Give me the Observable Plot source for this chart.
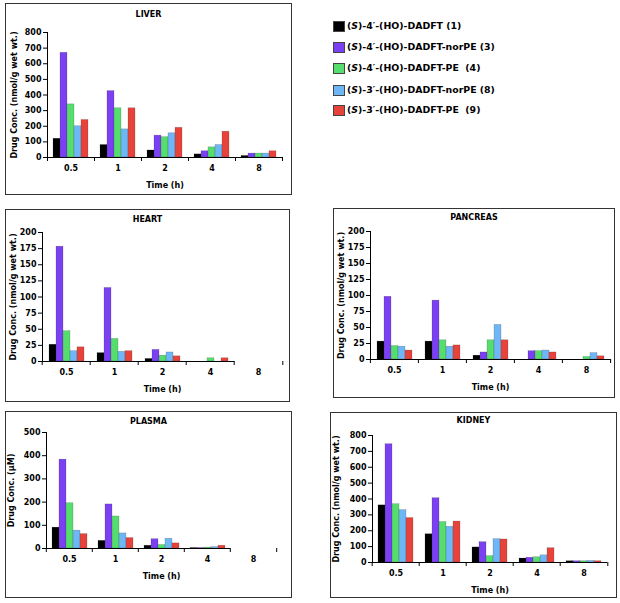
<!DOCTYPE html>
<html><head><meta charset="utf-8">
<script src="https://cdn.jsdelivr.net/npm/d3@7"></script>
<script src="https://cdn.jsdelivr.net/npm/@observablehq/plot@0.6"></script>
<style>
body{margin:0;background:#fff;font-family:"DejaVu Sans",Verdana,sans-serif;}
#root{position:relative;width:620px;height:603px;overflow:hidden;}
.box{position:absolute;border:1.5px solid #333;box-sizing:border-box;}
.title{position:absolute;text-align:center;font-weight:bold;font-size:8px;line-height:10px;}
.chart{position:absolute;}
.legend{position:absolute;left:333px;top:20px;font-weight:bold;font-size:9.4px;}
.legend .row{position:absolute;left:0;height:12px;white-space:pre;line-height:12px;}
.legend .sw{position:absolute;left:0;top:1px;width:10px;height:9px;border:0.5px solid #444;}
.legend .tx{position:absolute;left:14px;top:0;}
</style></head><body><div id="root"></div>
<script>
const times = ["0.5", "1", "2", "4", "8"];
const seriesNames = ["(S)-4′-(HO)-DADFT (1)", "(S)-4′-(HO)-DADFT-norPE (3)", "(S)-4′-(HO)-DADFT-PE  (4)", "(S)-3′-(HO)-DADFT-norPE (8)", "(S)-3′-(HO)-DADFT-PE  (9)"];
const colors = ["#000000", "#7a40f2", "#55dd6e", "#6fb6f6", "#e8433b"];

// values per series (rows) at each time (columns)
const liver = [
  [120, 80, 45, 20, 10],
  [670, 425, 140, 40, 25],
  [340, 315, 130, 65, 25],
  [200, 180, 155, 80, 25],
  [240, 315, 190, 165, 40]
];
const heart = [
  [26, 13, 4, 0, 0],
  [178, 114, 18, 0, 0],
  [47, 35, 9, 5, 0],
  [16, 15, 14, 0, 0],
  [22, 16, 8, 5, 0]
];
const pancreas = [
  [28, 28, 6, 0, 0],
  [98, 92, 11, 13, 0],
  [21, 30, 30, 13, 4],
  [20, 20, 54, 14, 10],
  [14, 22, 30, 11, 5]
];
const plasma = [
  [90, 33, 12, 2, 0],
  [383, 190, 40, 2, 0],
  [195, 138, 15, 4, 0],
  [77, 65, 42, 6, 0],
  [62, 45, 22, 12, 0]
];
const kidney = [
  [360, 178, 95, 25, 8],
  [745, 405, 128, 30, 8],
  [367, 255, 40, 33, 8],
  [330, 225, 147, 45, 10],
  [280, 258, 145, 90, 8]
];
const ticks800 = [0, 100, 200, 300, 400, 500, 600, 700, 800];
const ticks200 = [0, 25, 50, 75, 100, 125, 150, 175, 200];
const ticks500 = [0, 100, 200, 300, 400, 500];
const tissueLabel = "Drug Conc. (nmol/g wet wt.)";
const plasmaLabel = "Drug Conc. (µM)";

// layout: box [left, top, right, bottom], plot frame [left, right, top, bottom]
const panels = [
  {title: "LIVER", values: liver, ticks: ticks800, label: tissueLabel, box: [5, 3, 292, 195], frame: [47, 282, 32, 157], titleY: 15, yOff: 36},
  {title: "HEART", values: heart, ticks: ticks200, label: tissueLabel, box: [5, 209, 290, 402], frame: [40, 283, 232, 361], titleY: 220, yOff: 32},
  {title: "PANCREAS", values: pancreas, ticks: ticks200, label: tissueLabel, box: [333, 208, 615, 398], frame: [369, 610, 231, 359], titleY: 218, yOff: 32},
  {title: "PLASMA", values: plasma, ticks: ticks500, label: plasmaLabel, box: [5, 411, 292, 598], frame: [45, 277, 432, 548], titleY: 422, yOff: 38},
  {title: "KIDNEY", values: kidney, ticks: ticks800, label: tissueLabel, box: [330, 412, 617, 598], frame: [370, 608, 435, 562], titleY: 421, yOff: 39}
];

const root = document.getElementById("root");

for (const p of panels) {
  const [bl, bt, br, bb] = p.box;
  const [fl, fr, ft, fb] = p.frame;
  const box = document.createElement("div");
  box.className = "box";
  Object.assign(box.style, {left: bl + "px", top: bt + "px", width: (br - bl) + "px", height: (bb - bt) + "px"});
  root.appendChild(box);

  const title = document.createElement("div");
  title.className = "title";
  title.textContent = p.title;
  Object.assign(title.style, {left: bl + "px", width: (br - bl) + "px", top: (p.titleY - 5) + "px"});
  root.appendChild(title);

  const data = seriesNames.flatMap((s, i) => times.map((t, j) => ({series: s, time: t, value: p.values[i][j]})));
  const bw = (fr - fl) / times.length;
  const chart = Plot.plot({
    width: br - bl,
    height: bb - bt,
    marginLeft: fl - bl,
    marginRight: br - fr,
    marginTop: ft - bt,
    marginBottom: bb - fb,
    style: {fontFamily: "DejaVu Sans, Verdana, sans-serif", fontWeight: "bold", fontSize: "8px", color: "#000", background: "transparent", overflow: "visible"},
    fx: {domain: times, padding: 0},
    x: {domain: seriesNames, paddingInner: 0, paddingOuter: 0.6, axis: null},
    y: {domain: [p.ticks[0], p.ticks[p.ticks.length - 1]], ticks: p.ticks, tickSize: 4, tickPadding: 2, line: true, label: p.label, labelAnchor: "center", labelOffset: p.yOff, labelArrow: "none"},
    color: {domain: seriesNames, range: colors},
    marks: [
      Plot.barY(data.filter(d => d.value > 0), {fx: "time", x: "series", y: "value", fill: "series", stroke: "#222", strokeOpacity: 0.35, strokeWidth: 0.5}),
      Plot.ruleY([0], {stroke: "#000", strokeWidth: 1.2}),
      Plot.axisFx({anchor: "bottom", tickSize: 0, tickPadding: 8, label: "Time (h)", labelAnchor: "center", labelOffset: 30, labelArrow: "none"}),
      Plot.axisFx({anchor: "bottom", tickSize: 4, tickFormat: () => "", label: null, dx: -bw / 2}),
      Plot.axisFx({anchor: "bottom", ticks: [times[times.length - 1]], tickSize: 4, tickFormat: () => "", label: null, dx: bw / 2})
    ]
  });
  chart.classList.add("chart");
  chart.style.left = bl + "px";
  chart.style.top = bt + "px";
  root.appendChild(chart);
}

// legend
const legend = document.createElement("div");
legend.className = "legend";
const rowTops = [0, 21, 42, 64, 84];
seriesNames.forEach((s, i) => {
  const row = document.createElement("div");
  row.className = "row";
  row.style.top = rowTops[i] + "px";
  const sw = document.createElement("div");
  sw.className = "sw";
  sw.style.background = colors[i];
  row.appendChild(sw);
  const tx = document.createElement("div");
  tx.className = "tx";
  const m = s.match(/^\((S)\)(.*)$/);
  tx.appendChild(document.createTextNode("("));
  const it = document.createElement("i");
  it.textContent = m[1];
  tx.appendChild(it);
  tx.appendChild(document.createTextNode(")" + m[2]));
  row.appendChild(tx);
  legend.appendChild(row);
});
root.appendChild(legend);
</script>
</body></html>
